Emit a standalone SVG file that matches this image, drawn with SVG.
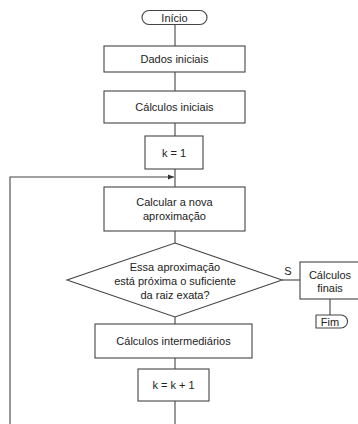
<svg xmlns="http://www.w3.org/2000/svg" width="358" height="424" viewBox="0 0 358 424">
<style>
.box{fill:#fff;stroke:#444;stroke-width:1.1}
.ln{fill:none;stroke:#444;stroke-width:1.1}
text{font-family:"Liberation Sans",Arial,sans-serif;font-size:11px;fill:#222;text-anchor:middle;dominant-baseline:central}
</style>
<defs>
<marker id="arr" viewBox="0 0 10 10" refX="10" refY="5" markerWidth="7" markerHeight="6" orient="auto" markerUnits="userSpaceOnUse">
<path d="M0,1 L10,5 L0,9 z" fill="#333"/>
</marker>
</defs>
<rect width="358" height="424" fill="#fff"/>
<g id="connectors">
<line class="ln" x1="175" y1="24" x2="175" y2="46"/>
<line class="ln" x1="175" y1="72" x2="175" y2="91"/>
<line class="ln" x1="175" y1="123" x2="175" y2="136"/>
<line class="ln" x1="175" y1="169" x2="175" y2="187"/>
<line class="ln" x1="175" y1="231" x2="175" y2="243"/>
<line class="ln" x1="175" y1="317" x2="175" y2="324"/>
<line class="ln" x1="175" y1="358" x2="175" y2="369"/>
<polyline class="ln" points="175,401 175,424"/>
<polyline class="ln" points="10,424 10,177 174,177" marker-end="url(#arr)"/>
<line class="ln" x1="282" y1="280" x2="300" y2="280"/>
<line class="ln" x1="330" y1="299" x2="330" y2="315"/>
<text x="288" y="271">S</text>
</g>
<g id="inicio">
<rect class="box" x="142" y="10.5" width="65" height="14" rx="7"/>
<text x="174.5" y="17.5">Início</text>
</g>
<g id="dados">
<rect class="box" x="104" y="46" width="141" height="26"/>
<text x="174.5" y="59">Dados iniciais</text>
</g>
<g id="calc-iniciais">
<rect class="box" x="104" y="91" width="141" height="32"/>
<text x="174.5" y="107">Cálculos iniciais</text>
</g>
<g id="k1">
<rect class="box" x="145" y="136" width="58" height="33"/>
<text x="174" y="152.5">k = 1</text>
</g>
<g id="calcular">
<rect class="box" x="104" y="187" width="141" height="44"/>
<text x="174.5" y="202">Calcular a nova</text>
<text x="174.5" y="216">aproximação</text>
</g>
<g id="decisao">
<polygon class="box" points="175,243 282,280 175,317 67,280"/>
<text x="175" y="267">Essa aproximação</text>
<text x="175" y="281">está próxima o suficiente</text>
<text x="175" y="295">da raiz exata?</text>
</g>
<g id="calc-finais">
<rect class="box" x="300" y="262" width="60" height="37"/>
<text x="330" y="275">Cálculos</text>
<text x="330" y="288">finais</text>
</g>
<g id="fim">
<path class="box" d="M316,315 H341 A6.5,6.5 0 0 1 341,328 H316 Z" stroke-linejoin="round"/>
<text x="330" y="321.5">Fim</text>
</g>
<g id="calc-intermediarios">
<rect class="box" x="95" y="324" width="157" height="34"/>
<text x="173.5" y="341">Cálculos intermediários</text>
</g>
<g id="kk1">
<rect class="box" x="138" y="369" width="71" height="32"/>
<text x="173.5" y="385">k = k + 1</text>
</g>
</svg>
